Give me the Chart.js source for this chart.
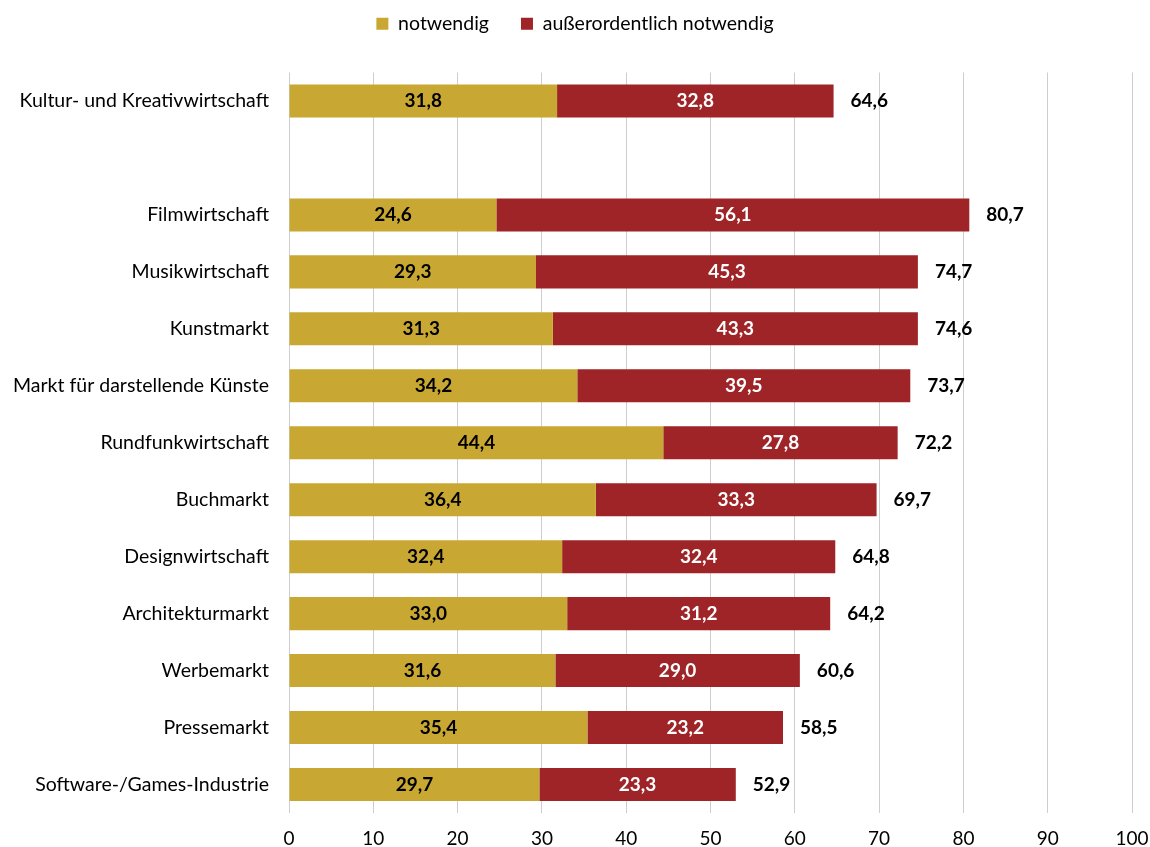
<!DOCTYPE html>
<html>
<head>
<meta charset="utf-8">
<script src="https://cdn.jsdelivr.net/npm/chart.js@4"></script>
<style>
  html, body { margin: 0; padding: 0; background: #fff; }
  #wrap { width: 1150px; height: 847px; }
</style>
</head>
<body>
<div id="wrap"><canvas id="chart"></canvas></div>
<script>
// categories (empty entry = gap row under the total)
const categories = [
    "Kultur- und Kreativwirtschaft", "",
    "Filmwirtschaft", "Musikwirtschaft", "Kunstmarkt", "Markt für darstellende Künste",
    "Rundfunkwirtschaft", "Buchmarkt", "Designwirtschaft", "Architekturmarkt",
    "Werbemarkt", "Pressemarkt", "Software-/Games-Industrie"
]
const notwendig = [31.8, null, 24.6, 29.3, 31.3, 34.2, 44.4, 36.4, 32.4, 33.0, 31.6, 35.4, 29.7]
const ausserordentlich = [32.8, null, 56.1, 45.3, 43.3, 39.5, 27.8, 33.3, 32.4, 31.2, 29.0, 23.2, 23.3]
const totals = [64.6, null, 80.7, 74.7, 74.6, 73.7, 72.2, 69.7, 64.8, 64.2, 60.6, 58.5, 52.9]

const FONT = "Lato, 'Open Sans', sans-serif"
const fmt = v => v.toFixed(1).replace(".", ",")

// Draw the numbers inside the bars and the totals after them
const labelPlugin = {
    id: "barLabels",
    afterDatasetsDraw(chart) {
        const ctx = chart.ctx
        ctx.save()
        ctx.font = "bold 19px " + FONT
        ctx.textBaseline = "middle"
        chart.data.datasets.forEach((ds, di) => {
            const meta = chart.getDatasetMeta(di)
            meta.data.forEach((bar, i) => {
                if (ds.data[i] == null) return
                ctx.fillStyle = di === 0 ? "#000" : "#fff"
                ctx.textAlign = "center"
                ctx.fillText(fmt(ds.data[i]), (bar.x + bar.base) / 2, bar.y)
            })
        })
        const last = chart.getDatasetMeta(1)
        last.data.forEach((bar, i) => {
            if (totals[i] == null) return
            ctx.fillStyle = "#000"
            ctx.textAlign = "left"
            ctx.fillText(fmt(totals[i]), bar.x + 17, bar.y)
        })
        ctx.restore()
    }
}

// legend: wide gap between items, but keep it near the top
const LEGEND_PAD = 32
const legendSpace = {
    id: "legendSpace",
    beforeInit(chart) {
        const lg = chart.legend
        const fit = lg.fit
        lg.fit = function () {
            fit.call(this)
            this.height += 11
        }
        const draw = lg.draw
        lg.draw = function () {
            this.ctx.save()
            this.ctx.translate(0, -(LEGEND_PAD - 14))
            draw.call(this)
            this.ctx.restore()
        }
    }
}

new Chart(document.getElementById("chart"), {
    type: "bar",
    data: {
        labels: categories,
        datasets: [
            { label: "notwendig", data: notwendig, backgroundColor: "#C8A832" },
            { label: "außerordentlich notwendig", data: ausserordentlich, backgroundColor: "#9E2427" }
        ]
    },
    options: {
        indexAxis: "y",
        responsive: true,
        maintainAspectRatio: false,
        animation: false,
        events: [],
        layout: { padding: 0 },
        datasets: { bar: { categoryPercentage: 1, barPercentage: 0.58 } },
        plugins: {
            tooltip: { enabled: false },
            legend: {
                position: "top",
                labels: {
                    color: "#000",
                    font: { family: FONT, size: 19.5 },
                    boxWidth: 12,
                    boxHeight: 12,
                    padding: LEGEND_PAD
                }
            }
        },
        scales: {
            x: {
                stacked: true,
                min: 0,
                max: 100,
                afterFit: scale => { scale.height = 34; scale.paddingRight = 18 },
                ticks: { stepSize: 10, color: "#000", font: { family: FONT, size: 19 }, padding: 14 },
                grid: { color: "#cecece", drawTicks: false },
                border: { display: false }
            },
            y: {
                stacked: true,
                afterFit: scale => { scale.width = 289 },
                ticks: { color: "#000", font: { family: FONT, size: 19.5 }, padding: 20 },
                grid: { display: false, drawTicks: false },
                border: { display: false }
            }
        }
    },
    plugins: [labelPlugin, legendSpace]
})
</script>
</body>
</html>
